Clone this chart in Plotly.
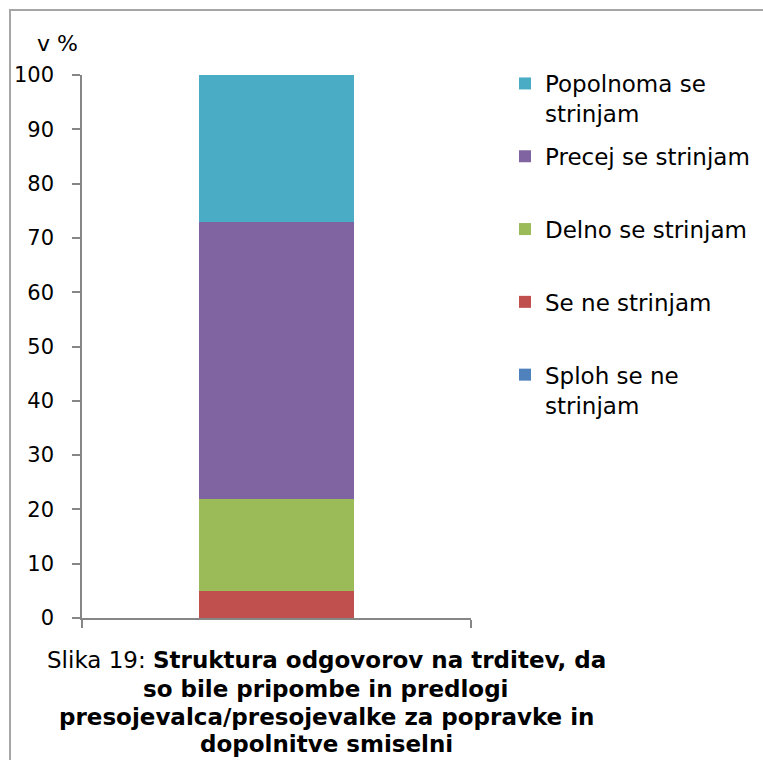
import plotly.graph_objects as go

categories = [""]
series_names = ["Sploh se ne<br>strinjam", "Se ne strinjam<br>&nbsp;", "Delno se strinjam<br>&nbsp;",
                "Precej se strinjam<br>&nbsp;", "Popolnoma se<br>strinjam"]
series_values = [[0], [5], [17], [51], [27]]
series_colors = ["#4F81BD", "#C0504D", "#9BBB59", "#8064A2", "#4BACC6"]
y_ticks = [0, 10, 20, 30, 40, 50, 60, 70, 80, 90, 100]
caption_lines = ["Slika 19: <b>Struktura odgovorov na trditev, da</b>",
                 "<b>so bile pripombe in predlogi</b>",
                 "<b>presojevalca/presojevalke za popravke in</b>",
                 "<b>dopolnitve smiselni</b>"]

W, H = 763, 760
L, R, T, B = 82, 763 - 471, 75, 760 - 618
pw, ph = W - L - R, H - T - B

fig = go.Figure()
n = len(series_names)
for i, (name, vals, col) in enumerate(zip(series_names, series_values, series_colors)):
    fig.add_trace(go.Bar(x=categories, y=vals, name=name, marker_color=col,
                         marker_line_width=0, legendgroup="g%d" % (n - i),
                         legendrank=(n - i) * 100, width=0.4))

def px_x(p):
    return (p - L) / pw

def px_y(p):
    return (H - B - p) / ph

axis_col = "#868686"
fig.update_layout(
    width=W, height=H,
    margin=dict(l=L, r=R, t=T, b=B, autoexpand=False),
    barmode="stack",
    plot_bgcolor="white", paper_bgcolor="white",
    font=dict(family="DejaVu Sans, Verdana", size=21, color="black"),
    showlegend=True,
    legend=dict(x=px_x(505), y=px_y(62), xanchor="left", yanchor="top",
                traceorder="grouped", tracegroupgap=10, valign="top",
                font=dict(size=23), bgcolor="rgba(0,0,0,0)"),
    xaxis=dict(type="category", showticklabels=False, showline=True, linecolor=axis_col,
               linewidth=1.5, ticks="outside", ticklen=8, tickcolor=axis_col,
               tickwidth=1.5, tickson="boundaries", showgrid=False, range=[-0.5, 0.5]),
    yaxis=dict(range=[0, 100], tickvals=y_ticks, ticks="outside", ticklen=8,
               tickcolor=axis_col, tickwidth=1.5, showline=True, linecolor=axis_col,
               linewidth=1.5, showgrid=False, zeroline=False, ticklabelstandoff=14,
               tickfont=dict(size=21)),
)

fig.add_shape(type="rect", xref="paper", yref="paper",
              x0=px_x(10), x1=px_x(800), y0=px_y(10), y1=px_y(800),
              line=dict(color="#a6a6a6", width=2), fillcolor="rgba(0,0,0,0)", layer="below")

fig.add_annotation(text="v %", xref="paper", yref="paper", x=px_x(35), y=px_y(58),
                   xanchor="left", yanchor="bottom", showarrow=False,
                   font=dict(size=22))

caption_baselines = [668, 697, 725, 752]
for line, base in zip(caption_lines, caption_baselines):
    fig.add_annotation(text=line, xref="paper", yref="paper", x=px_x(326), y=px_y(base - 8),
                       xanchor="center", yanchor="middle", showarrow=False,
                       font=dict(size=23))

fig.write_html("out.html", config={"displayModeBar": False},
               post_script="document.body.style.margin='0';document.body.style.overflow='hidden';")
